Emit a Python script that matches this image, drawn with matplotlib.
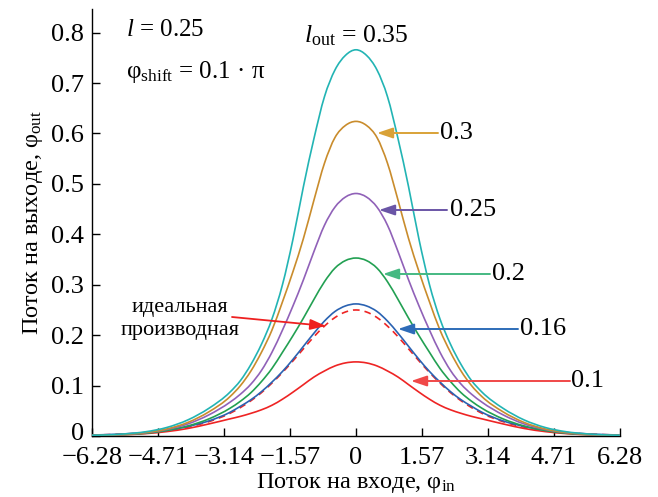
import numpy as np
import matplotlib
matplotlib.use("Agg")
import matplotlib.pyplot as plt
from matplotlib.path import Path
from matplotlib.patches import PathPatch
from matplotlib.transforms import ScaledTranslation

# ---- data (curves are symmetric about 0) ----
x_half = [0, 0.25, 0.5, 0.75, 1.0, 1.25, 1.5, 1.75, 2.0, 2.25, 2.5, 2.75,
          3.0, 3.5, 4.0, 4.5, 5.0, 5.5, 6.0, 6.28]

y_035 = [0.766, 0.755, 0.726, 0.673, 0.590, 0.495, 0.390, 0.300, 0.232, 0.182,
         0.142, 0.110, 0.087, 0.055, 0.032, 0.017, 0.0085, 0.0042, 0.002, 0.0015]
y_030 = [0.624, 0.616, 0.592, 0.541, 0.468, 0.392, 0.326, 0.266, 0.210, 0.166,
         0.129, 0.100, 0.078, 0.048, 0.027, 0.014, 0.007, 0.0035, 0.0018, 0.0012]
y_025 = [0.481, 0.474, 0.454, 0.418, 0.366, 0.310, 0.258, 0.210, 0.166, 0.130,
         0.103, 0.083, 0.067, 0.042, 0.024, 0.013, 0.0065, 0.0033, 0.0017, 0.0012]
y_020 = [0.353, 0.348, 0.333, 0.306, 0.271, 0.234, 0.199, 0.166, 0.134, 0.108,
         0.086, 0.069, 0.055, 0.034, 0.020, 0.011, 0.0055, 0.0028, 0.0014, 0.001]
y_016 = [0.262, 0.258, 0.247, 0.228, 0.204, 0.178, 0.152, 0.128, 0.107, 0.088,
         0.072, 0.059, 0.047, 0.030, 0.019, 0.0115, 0.007, 0.0043, 0.0026, 0.002]
y_010 = [0.147, 0.145, 0.139, 0.129, 0.117, 0.102, 0.087, 0.073, 0.061, 0.052,
         0.045, 0.039, 0.034, 0.024, 0.015, 0.0088, 0.0048, 0.0026, 0.0014, 0.001]
y_ideal = [0.250, 0.246, 0.235, 0.218, 0.197, 0.173, 0.149, 0.126, 0.105, 0.086,
           0.070, 0.0565, 0.045, 0.0285, 0.0177, 0.0109, 0.0066, 0.0041, 0.0025, 0.0019]

series_labels = ["0.35", "0.3", "0.25", "0.2", "0.16", "0.1"]
x_ticks = [-6.28, -4.71, -3.14, -1.57, 0, 1.57, 3.14, 4.71, 6.28]
x_ticklabels = ["\u22126.28", "\u22124.71", "\u22123.14", "\u22121.57", "0",
                "1.57", "3.14", "4.71", "6.28"]
y_ticks = [0, 0.1, 0.2, 0.3, 0.4, 0.5, 0.6, 0.7, 0.8]
y_ticklabels = ["0", "0.1", "0.2", "0.3", "0.4", "0.5", "0.6", "0.7", "0.8"]


def full(xh, yh):
    xh = np.asarray(xh, float)
    yh = np.asarray(yh, float)
    return (np.concatenate([-xh[:0:-1], xh]),
            np.concatenate([yh[:0:-1], yh]))


def smooth_path(x, y):
    """Smooth line through the data points (cubic Hermite drawn as Bezier)."""
    n = len(x)
    h = np.diff(x)
    d = np.diff(y) / h
    m = np.zeros(n)
    m[0], m[-1] = d[0], d[-1]
    for i in range(1, n - 1):
        m[i] = (d[i - 1] * h[i] + d[i] * h[i - 1]) / (h[i - 1] + h[i])
    verts = [(x[0], y[0])]
    codes = [Path.MOVETO]
    for i in range(n - 1):
        verts += [(x[i] + h[i] / 3, y[i] + m[i] * h[i] / 3),
                  (x[i + 1] - h[i] / 3, y[i + 1] - m[i + 1] * h[i] / 3),
                  (x[i + 1], y[i + 1])]
        codes += [Path.CURVE4] * 3
    return Path(verts, codes)


plt.rcParams['font.family'] = ['Liberation Serif', 'DejaVu Serif']
plt.rcParams['mathtext.fontset'] = 'custom'
plt.rcParams['mathtext.rm'] = 'Liberation Serif'
plt.rcParams['mathtext.it'] = 'Liberation Serif:italic'

fig = plt.figure(figsize=(6.58, 4.97), dpi=100)
ax = fig.add_axes([0.14, 0.1227, 0.802, 0.8593])

colors = {"0.35": "#22b4b4", "0.3": "#c98c2c", "0.25": "#9061b8",
          "0.2": "#22a052", "0.16": "#2a62b2", "0.1": "#ee2424"}
arrow_colors = {"0.3": "#d9a237", "0.25": "#6a55a6", "0.2": "#45b982",
                "0.16": "#2e6cb8", "0.1": "#f04848"}

data = {"0.35": y_035, "0.3": y_030, "0.25": y_025, "0.2": y_020,
        "0.16": y_016, "0.1": y_010}
lw = 1.2
for lab in ["0.1", "0.16", "0.2", "0.25", "0.3", "0.35"]:
    xx, yy = full(x_half, data[lab])
    ax.add_patch(PathPatch(smooth_path(xx, yy), facecolor='none',
                           edgecolor=colors[lab], lw=lw, zorder=3))
xx, yy = full(x_half, y_ideal)
ax.add_patch(PathPatch(smooth_path(xx, yy), facecolor='none',
                       edgecolor="#ee2424", lw=lw, ls=(0, (4, 3)), zorder=2))

ax.set_xlim(-6.28, 6.28)
ax.set_ylim(0, 0.847)
ax.set_xticks(x_ticks)
ax.set_xticklabels(x_ticklabels)
ax.set_yticks(y_ticks)
ax.set_yticklabels(y_ticklabels)
for s in ['top', 'right']:
    ax.spines[s].set_visible(False)
for s in ['left', 'bottom']:
    ax.spines[s].set_linewidth(1.0)
ax.tick_params(direction='in', length=6, width=1.0, labelsize=19)
ax.tick_params(axis='x', pad=8)
ax.tick_params(axis='y', pad=6)

# nudge the "0" y tick label up a little so it clears the x tick labels
zero_lab = ax.yaxis.get_major_ticks()[0].label1
zero_lab.set_transform(zero_lab.get_transform() +
                       ScaledTranslation(0, 3 / 72, fig.dpi_scale_trans))

ax.set_xlabel("Поток на входе, φ$_{\\mathrm{in}}$", fontsize=17.5, labelpad=1)
ax.set_ylabel("Поток на выходе, φ$_{\\mathrm{out}}$", fontsize=17.5, labelpad=4)


def pix(px, py):
    inv = ax.transData.inverted()
    return inv.transform(fig.dpi_scale_trans.transform((px / 100.0, (497 - py) / 100.0)))


ax.text(*pix(126, 30), "$l$ = 0.25", fontsize=18, va='center', ha='left')
ax.text(*pix(126, 72), "φ$_{\\mathrm{shift}}$ = 0.1 · π", fontsize=18,
        va='center', ha='left')
ax.text(*pix(304, 36), "$l$$_{\\mathrm{out}}$ = 0.35", fontsize=18.5,
        va='center', ha='left')

astyle = "-|>,head_length=0.95,head_width=0.32"
arrows = [("0.3", (438, 133), (377, 133), (440, 133)),
          ("0.25", (447, 210), (379, 210), (450, 210)),
          ("0.2", (490, 274), (383, 274), (492, 274)),
          ("0.16", (518, 329), (398, 329), (520, 329)),
          ("0.1", (570, 381), (411, 381), (571, 381))]
for lab, start, end, tpos in arrows:
    ax.annotate("", xy=pix(*end), xytext=pix(*start),
                arrowprops=dict(arrowstyle=astyle, mutation_scale=10,
                                color=arrow_colors[lab], lw=1.4,
                                shrinkA=0, shrinkB=0))
    ax.text(*pix(*tpos), lab, fontsize=19, va='center', ha='left')

ax.annotate("", xy=pix(326, 326), xytext=pix(232, 317),
            arrowprops=dict(arrowstyle=astyle, mutation_scale=10,
                            color="#ee2020", lw=1.3, shrinkA=0, shrinkB=0))
ax.text(*pix(180, 319), "идеальная\nпроизводная", fontsize=16, va='center',
        ha='center', linespacing=1.25)

fig.savefig("out.png", dpi=100)
